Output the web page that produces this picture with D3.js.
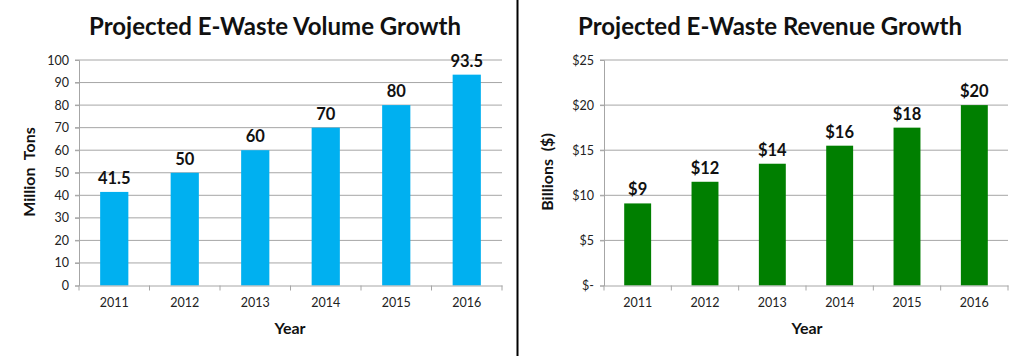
<!DOCTYPE html>
<html><head><meta charset="utf-8">
<script src="https://cdn.jsdelivr.net/npm/d3@7"></script>
<style>
html,body{margin:0;padding:0;background:#fff;}
svg{display:block;}
text{font-family:Lato,"Open Sans",sans-serif;}
</style></head>
<body>
<svg id="c" width="1024" height="356"></svg>
<script>
const years = ["2011","2012","2013","2014","2015","2016"];
const volumeValues = [41.5, 50, 60, 70, 80, 93.5];
const volumeLabels = ["41.5","50","60","70","80","93.5"];
const volumeTicks = [0,10,20,30,40,50,60,70,80,90,100];
const revenueValues = [9.1, 11.5, 13.5, 15.5, 17.5, 20];
const revenueLabels = ["$9","$12","$14","$16","$18","$20"];
const revenueTicks = [0,5,10,15,20,25];
const revenueTickLabels = ["$-","$5","$10","$15","$20","$25"];

const svg = d3.select("#c");

function drawChart(cfg){
  const g = svg.append("g");
  const x = d3.scaleBand().domain(years).range([cfg.x0, cfg.x1]).padding(0);
  const y = d3.scaleLinear().domain([0, cfg.max]).range([285.5, 60]);
  // gridlines
  g.append("g").selectAll("line").data(cfg.ticks.filter(t=>t>0)).join("line")
    .attr("x1", cfg.x0 - 4).attr("x2", cfg.x1)
    .attr("y1", d=>y(d)).attr("y2", d=>y(d))
    .attr("stroke","#a6a6a6").attr("stroke-width",1);
  // y axis
  const ya = d3.axisLeft(y).tickValues(cfg.ticks).tickSize(4).tickPadding(6)
    .tickFormat((d,i)=>cfg.tickLabels[i]);
  const yg = g.append("g").attr("transform",`translate(${cfg.x0},0)`).call(ya);
  yg.select(".domain").attr("stroke","#a6a6a6");
  yg.selectAll(".tick line").attr("stroke","#a6a6a6");
  yg.selectAll(".tick text").attr("font-size",12.5).attr("fill","#222").attr("font-family","Lato");
  // bars
  const bw = x.bandwidth()*0.4;
  g.append("g").selectAll("rect").data(cfg.values).join("rect")
    .attr("x",(d,i)=>x(years[i]) + x.bandwidth()/2 - bw/2)
    .attr("width", bw)
    .attr("y", d=>y(d))
    .attr("height", d=>y(0)-y(d))
    .attr("fill", cfg.color);
  // x axis
  const xa = d3.axisBottom(x).tickSize(0).tickPadding(13);
  const xg = g.append("g").attr("transform",`translate(0,${y(0)})`).call(xa);
  xg.select(".domain").attr("stroke","#a6a6a6");
  xg.selectAll(".tick text").attr("font-size",12.5).attr("fill","#222").attr("font-family","Lato");
  // category boundary ticks
  const bounds = years.map(d=>x(d)).concat([cfg.x1]);
  g.append("g").selectAll("line").data(bounds).join("line")
    .attr("x1",d=>d).attr("x2",d=>d).attr("y1",y(0)).attr("y2",y(0)+5)
    .attr("stroke","#a6a6a6");
  // data labels
  g.append("g").selectAll("text").data(cfg.values).join("text")
    .attr("x",(d,i)=>x(years[i]) + x.bandwidth()/2)
    .attr("y", d=>y(d)-8)
    .attr("text-anchor","middle").attr("font-size",16.5).attr("font-weight","bold")
    .attr("fill","#111")
    .text((d,i)=>cfg.labels[i]);
  // title
  g.append("text").attr("x",cfg.titleX).attr("y",35).attr("text-anchor","middle")
    .attr("font-size",24).attr("font-weight","bold").attr("fill","#111").text(cfg.title);
  // x title
  g.append("text").attr("x",cfg.yearX).attr("y",334).attr("text-anchor","middle")
    .attr("font-size",16).attr("font-weight","bold").attr("fill","#111").text("Year");
  // y title
  g.append("text").attr("transform",`translate(${cfg.ylabX},172) rotate(-90)`)
    .attr("text-anchor","middle").attr("font-size",16).attr("font-weight","bold")
    .attr("fill","#111").attr("xml:space","preserve").style("white-space","pre").text(cfg.ylabel);
}

drawChart({x0:79, x1:502, max:100, ticks:volumeTicks, tickLabels:volumeTicks.map(String),
  values:volumeValues, labels:volumeLabels, color:"#00b0f0",
  title:"Projected E-Waste Volume Growth", titleX:275, yearX:290, ylabX:35, ylabel:"Million  Tons"});
drawChart({x0:604, x1:1008, max:25, ticks:revenueTicks, tickLabels:revenueTickLabels,
  values:revenueValues, labels:revenueLabels, color:"#007f00",
  title:"Projected E-Waste Revenue Growth", titleX:770, yearX:807, ylabX:553, ylabel:"Billions  ($)"});

// divider
svg.append("line").attr("x1",517.5).attr("x2",517.5).attr("y1",0).attr("y2",356)
  .attr("stroke","#000").attr("stroke-width",2);
</script>
</body></html>
